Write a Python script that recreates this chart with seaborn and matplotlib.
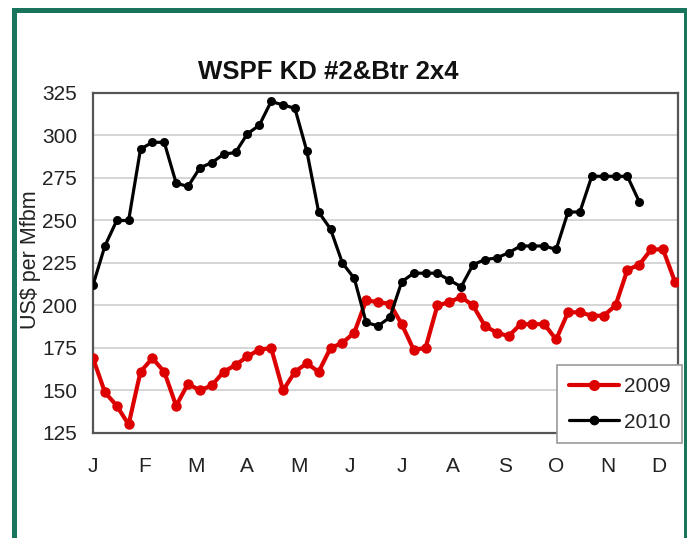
import numpy as np
import pandas as pd
import matplotlib
matplotlib.use("Agg")
import matplotlib.pyplot as plt
from matplotlib.patches import Rectangle
from matplotlib.lines import Line2D
import seaborn as sns

# ---- data (weekly prices, US$ per Mfbm) ----
prices_2009 = [169, 149, 141, 130, 161, 169, 161, 141, 154, 150,
               153, 161, 165, 170, 174, 175, 150, 161, 166, 161,
               175, 178, 184, 203, 202, 201, 189, 174, 175, 200,
               202, 205, 200, 188, 184, 182, 189, 189, 189, 180,
               196, 196, 194, 194, 200, 221, 224, 233, 233, 214]
prices_2010 = [212, 235, 250, 250, 292, 296, 296, 272, 270, 281,
               284, 289, 290, 301, 306, 320, 318, 316, 291, 255,
               245, 225, 216, 190, 188, 193, 214, 219, 219, 219,
               215, 211, 224, 227, 228, 231, 235, 235, 235, 233,
               255, 255, 276, 276, 276, 276, 261]
month_labels = ["J", "F", "M", "A", "M", "J", "J", "A", "S", "O", "N", "D"]
y_ticks = [125, 150, 175, 200, 225, 250, 275, 300, 325]
series_names = ["2009", "2010"]
series_colors = {"2009": "#dd0000", "2010": "#000000"}

df = pd.concat([
    pd.DataFrame({"week": np.arange(len(prices_2009)), "price": prices_2009, "year": "2009"}),
    pd.DataFrame({"week": np.arange(len(prices_2010)), "price": prices_2010, "year": "2010"}),
], ignore_index=True)

sns.set_theme(style="white")
plt.rcParams["font.family"] = ["Liberation Sans", "DejaVu Sans"]

W, H = 687, 538
fig = plt.figure(figsize=(W / 100, H / 100), dpi=100)
ax = fig.add_axes([93 / W, 1 - 433 / H, (678 - 93) / W, (433 - 93) / H])

sns.lineplot(data=df[df.year == "2009"], x="week", y="price", ax=ax,
             color=series_colors["2009"], linewidth=3.0, marker="o",
             markersize=7.5, markeredgewidth=0, legend=False, zorder=3)
sns.lineplot(data=df[df.year == "2010"], x="week", y="price", ax=ax,
             color=series_colors["2010"], linewidth=2.3, marker="o",
             markersize=6.5, markeredgewidth=0, legend=False, zorder=4)

ax.set_ylim(125, 325)
ax.set_xlim(0, 49.26)
ax.set_yticks(y_ticks)
ax.set_yticklabels([str(v) for v in y_ticks], fontsize=15, color="#222222")
ax.set_xticks([m * 52 / 12 for m in range(12)])
ax.set_xticklabels(month_labels, fontsize=15, color="#222222")
ax.tick_params(axis="x", direction="in", length=4, width=1, color="#aaaaaa", pad=17)
ax.tick_params(axis="y", length=0, pad=11.5)
ax.set_xlabel("")
ax.set_ylabel("US$ per Mfbm", fontsize=15.5, color="#222222")
ax.yaxis.set_label_coords((41 - 93) / 585, 0.509)

ax.grid(axis="y", color="#d2d2d2", linewidth=1.3)
ax.set_axisbelow(True)
for sp in ax.spines.values():
    sp.set_color("#555555")
    sp.set_linewidth(1.6)

fig.text(328 / W, 1 - 72 / H, "WSPF KD #2&Btr 2x4", fontsize=18.5,
         fontweight="bold", ha="center", va="center", color="#111111")

handles = [Line2D([0], [0], color=series_colors[n], lw=3.0 if n == "2009" else 2.3,
                  marker="o", markersize=7 if n == "2009" else 6) for n in series_names]
leg = fig.legend(handles, series_names, loc="lower right",
                 bbox_to_anchor=(682 / W, 1 - 443 / H), bbox_transform=fig.transFigure,
                 fontsize=15, frameon=True, fancybox=False, handlelength=2.4,
                 handletextpad=0.25, borderpad=0.55, borderaxespad=0,
                 labelspacing=0.8)
leg.get_frame().set_edgecolor("#999999")
leg.get_frame().set_linewidth(1.2)
leg.get_frame().set_facecolor("white")
leg.get_frame().set_alpha(1)

# green frame around the figure (bottom edge cropped)
fig.add_artist(Rectangle((13.5 / W, -0.05), (685.5 - 13.5) / W, 1.05 - 10.5 / H,
                         transform=fig.transFigure, fill=False,
                         edgecolor="#18745c", linewidth=3.6, clip_on=False))

fig.savefig("out.png", dpi=100)
